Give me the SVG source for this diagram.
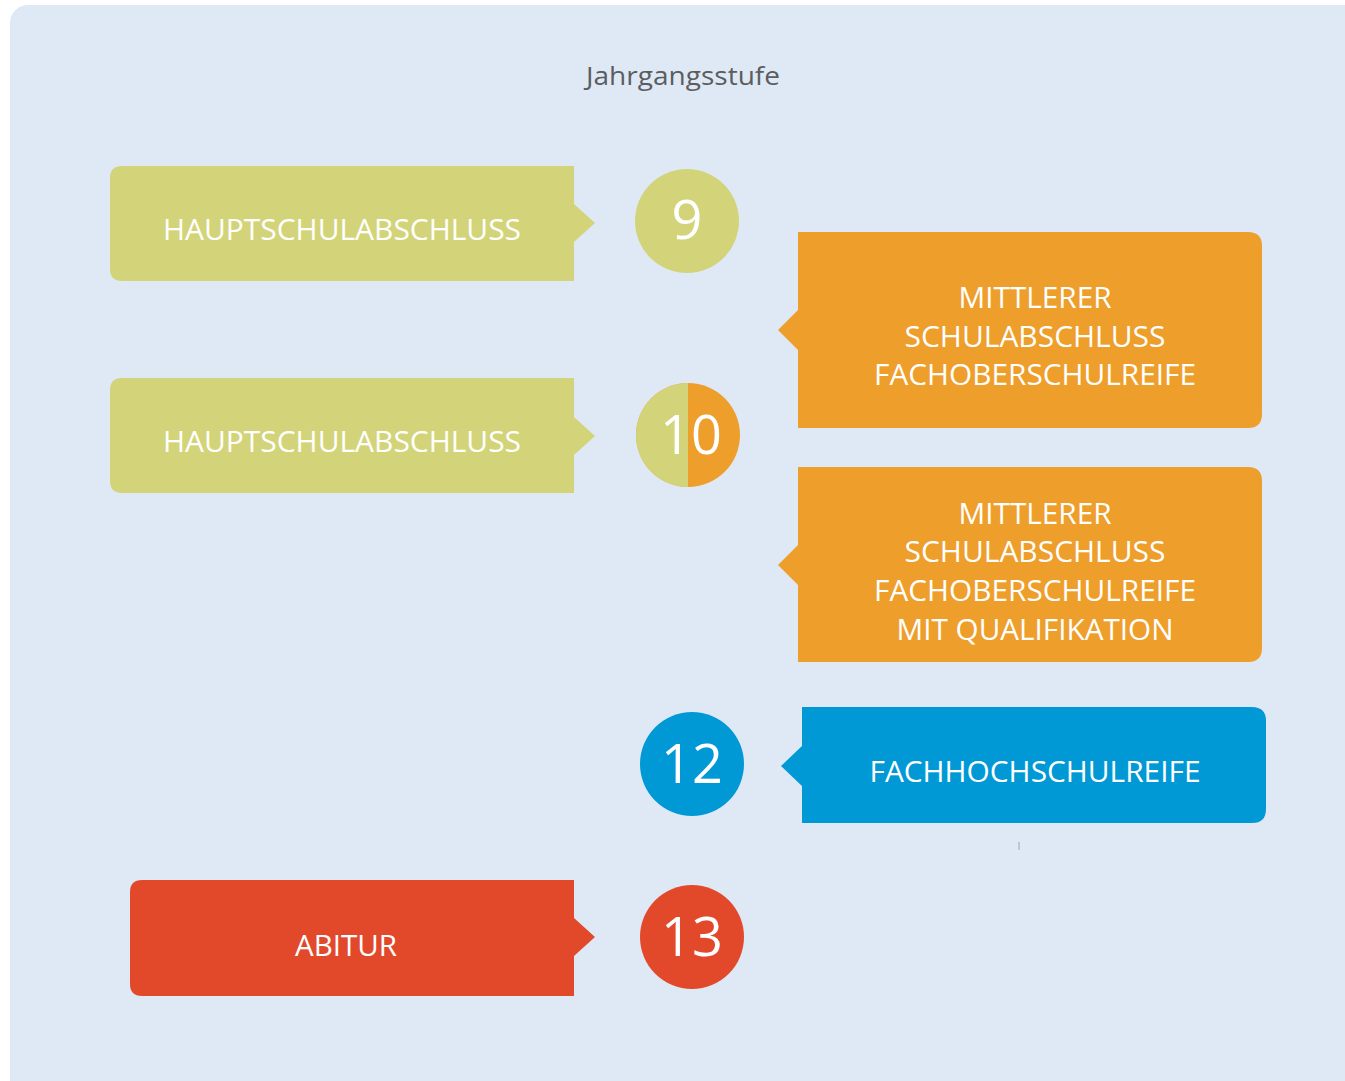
<svg xmlns="http://www.w3.org/2000/svg" width="1345" height="1081" viewBox="0 0 1345 1081">
<defs>
<style>
.lbl{font-family:"Open Sans","Liberation Sans",sans-serif;fill:#ffffff;text-anchor:middle;font-size:29px;}
.num{font-family:"Open Sans","Liberation Sans",sans-serif;fill:#ffffff;text-anchor:middle;font-size:54px;}
.green{fill:#d3d479;}
.orange{fill:#ee9e2b;}
.blue{fill:#0099d5;}
.red{fill:#e2492b;}
</style>
<clipPath id="lefthalf"><rect x="600" y="370" width="88" height="130"/></clipPath>
</defs>
<rect x="0" y="0" width="1345" height="1081" fill="#ffffff"/>
<rect x="10" y="5" width="1360" height="1100" rx="18" fill="#dfe9f6"/>
<text x="683" y="85" font-family="Open Sans, Liberation Sans, sans-serif" font-size="26" fill="#5b5d60" text-anchor="middle" textLength="194" lengthAdjust="spacingAndGlyphs">Jahrgangsstufe</text>

<g id="hs9">
<path class="green" d="M122,166 H574 V204 L595,223 L574,242 V281 H122 Q110,281 110,269 V178 Q110,166 122,166 Z"/>
<text class="lbl" x="342" y="240" textLength="358" lengthAdjust="spacingAndGlyphs">HAUPTSCHULABSCHLUSS</text>
</g>
<g id="c9">
<circle class="green" cx="687" cy="221" r="52"/>
<text class="num" x="687" y="239">9</text>
</g>
<g id="msa">
<path class="orange" d="M798,232 H1248 Q1262,232 1262,246 V414 Q1262,428 1248,428 H798 V350 L778,330 L798,310 Z"/>
<text class="lbl" x="1035" y="308" textLength="153" lengthAdjust="spacingAndGlyphs">MITTLERER</text>
<text class="lbl" x="1035" y="347" textLength="261" lengthAdjust="spacingAndGlyphs">SCHULABSCHLUSS</text>
<text class="lbl" x="1035" y="385" textLength="322" lengthAdjust="spacingAndGlyphs">FACHOBERSCHULREIFE</text>
</g>
<g id="hs10">
<path class="green" d="M122,378 H574 V417 L595,436 L574,455 V493 H122 Q110,493 110,481 V390 Q110,378 122,378 Z"/>
<text class="lbl" x="342" y="452" textLength="358" lengthAdjust="spacingAndGlyphs">HAUPTSCHULABSCHLUSS</text>
</g>
<g id="c10">
<circle class="orange" cx="688" cy="435" r="52"/>
<circle class="green" cx="688" cy="435" r="52" clip-path="url(#lefthalf)"/>
<text class="num" x="691" y="454">10</text>
</g>
<g id="msaq">
<path class="orange" d="M798,467 H1248 Q1262,467 1262,481 V648 Q1262,662 1248,662 H798 V585 L778,565 L798,545 Z"/>
<text class="lbl" x="1035" y="524" textLength="153" lengthAdjust="spacingAndGlyphs">MITTLERER</text>
<text class="lbl" x="1035" y="562" textLength="261" lengthAdjust="spacingAndGlyphs">SCHULABSCHLUSS</text>
<text class="lbl" x="1035" y="601" textLength="322" lengthAdjust="spacingAndGlyphs">FACHOBERSCHULREIFE</text>
<text class="lbl" x="1035" y="640" textLength="277" lengthAdjust="spacingAndGlyphs">MIT QUALIFIKATION</text>
</g>
<g id="c12">
<circle class="blue" cx="692" cy="764" r="52"/>
<text class="num" x="692" y="783">12</text>
</g>
<g id="fhr">
<path class="blue" d="M802,707 H1252 Q1266,707 1266,721 V809 Q1266,823 1252,823 H802 V786 L781,766 L802,746 Z"/>
<text class="lbl" x="1035" y="782" textLength="331" lengthAdjust="spacingAndGlyphs">FACHHOCHSCHULREIFE</text>
</g>
<line x1="1019" y1="842" x2="1019" y2="850" stroke="#9aa3ad" stroke-width="1"/>
<g id="abi">
<path class="red" d="M142,880 H574 V918 L595,937 L574,956 V996 H142 Q130,996 130,984 V892 Q130,880 142,880 Z"/>
<text class="lbl" x="346" y="956" textLength="102" lengthAdjust="spacingAndGlyphs">ABITUR</text>
</g>
<g id="c13">
<circle class="red" cx="692" cy="937" r="52"/>
<text class="num" x="692" y="956">13</text>
</g>
<g id="connectors"></g>
</svg>
